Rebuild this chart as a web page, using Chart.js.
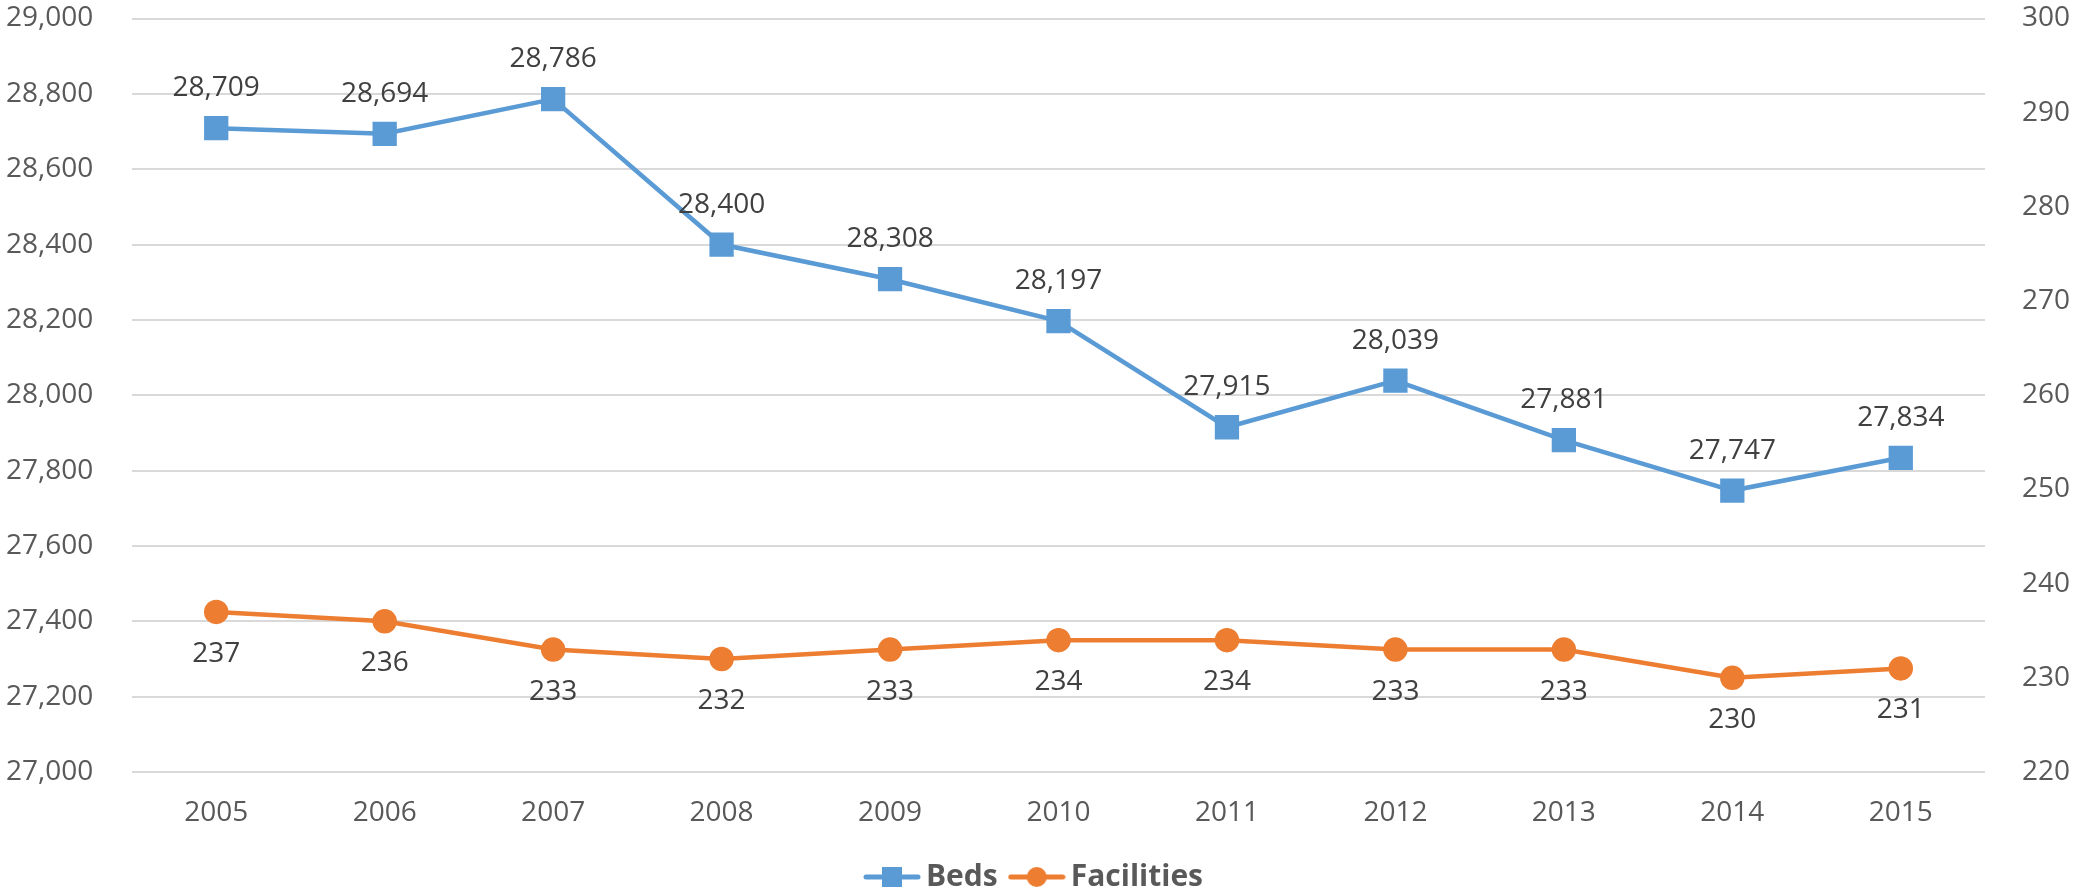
<!DOCTYPE html>
<html>
<head>
<meta charset="utf-8">
<script src="https://cdn.jsdelivr.net/npm/chart.js@4"></script>
<style>
  html, body { margin: 0; padding: 0; background: #fff; }
  #wrap { width: 2074px; height: 894px; }
</style>
</head>
<body>
<div id="wrap"><canvas id="chart"></canvas></div>
<script>
const years = ['2005', '2006', '2007', '2008', '2009', '2010', '2011', '2012', '2013', '2014', '2015'];
const beds = [28709, 28694, 28786, 28400, 28308, 28197, 27915, 28039, 27881, 27747, 27834];
const facilities = [237, 236, 233, 232, 233, 234, 234, 233, 233, 230, 231];

const blue = '#5B9BD5';
const orange = '#ED7D31';
const font = '"Open Sans", sans-serif';

// legend icon: short line with the marker in the middle
function legendIcon(color, shape) {
    const c = document.createElement('canvas');
    c.width = 58;
    c.height = 22;
    const g = c.getContext('2d');
    g.strokeStyle = color;
    g.lineWidth = 5;
    g.lineCap = 'round';
    g.beginPath();
    g.moveTo(3, 11);
    g.lineTo(55, 11);
    g.stroke();
    g.fillStyle = color;
    if (shape === 'rect') {
        g.fillRect(19, 1, 20, 20);
    } else {
        g.beginPath();
        g.arc(29, 11, 10, 0, Math.PI * 2);
        g.fill();
    }
    return c;
}

const dataLabels = {
    id: 'dataLabels',
    afterDatasetsDraw(chart) {
        const ctx = chart.ctx;
        ctx.save();
        ctx.font = '28px ' + font;
        ctx.fillStyle = '#404040';
        ctx.textAlign = 'center';
        ctx.textBaseline = 'middle';
        chart.data.datasets.forEach((ds, di) => {
            const meta = chart.getDatasetMeta(di);
            const off = di === 0 ? -40 : 42;
            meta.data.forEach((pt, i) => {
                ctx.fillText(ds.data[i].toLocaleString('en-US'), pt.x, pt.y + off);
            });
        });
        ctx.restore();
    }
};

new Chart(document.getElementById('chart'), {
    type: 'line',
    data: {
        labels: years,
        datasets: [{
            label: 'Beds',
            data: beds,
            yAxisID: 'y',
            borderColor: blue,
            backgroundColor: blue,
            borderWidth: 4.5,
            pointStyle: 'rect',
            pointRadius: 14,
            pointHoverRadius: 14,
            tension: 0
        }, {
            label: 'Facilities',
            data: facilities,
            yAxisID: 'y2',
            borderColor: orange,
            backgroundColor: orange,
            borderWidth: 4.5,
            pointStyle: 'circle',
            pointRadius: 10,
            pointHoverRadius: 10,
            tension: 0
        }]
    },
    options: {
        responsive: true,
        maintainAspectRatio: false,
        animation: false,
        layout: { padding: { top: 1, bottom: -8, left: 6, right: 4 } },
        plugins: {
            legend: {
                position: 'bottom',
                labels: {
                    usePointStyle: true,
                    pointStyleWidth: 38,
                    color: '#595959',
                    font: { family: font, size: 30, weight: 'bold' },
                    padding: 20,
                    generateLabels: function (chart) {
                        return [
                            { text: 'Beds', pointStyle: legendIcon(blue, 'rect'), fillStyle: blue, strokeStyle: blue, lineWidth: 0, datasetIndex: 0, fontColor: '#595959' },
                            { text: 'Facilities', pointStyle: legendIcon(orange, 'circle'), fillStyle: orange, strokeStyle: orange, lineWidth: 0, datasetIndex: 1, fontColor: '#595959' }
                        ];
                    }
                }
            },
            tooltip: { enabled: false }
        },
        scales: {
            x: {
                offset: true,
                grid: { display: false, drawTicks: false },
                border: { display: false },
                ticks: { color: '#595959', font: { family: font, size: 28 }, padding: 24 },
                afterFit: function (scale) { scale.height = 70; }
            },
            y: {
                position: 'left',
                min: 27000,
                max: 29000,
                ticks: {
                    stepSize: 200,
                    color: '#595959',
                    font: { family: font, size: 28 },
                    padding: 0,
                    crossAlign: 'far',
                    callback: function (value) {
                        return value.toLocaleString('en-US');
                    }
                },
                grid: { color: '#D9D9D9', lineWidth: 2, drawTicks: false },
                border: { display: false },
                afterFit: function (scale) { scale.width = 126; }
            },
            y2: {
                position: 'right',
                min: 220,
                max: 300,
                ticks: {
                    stepSize: 10,
                    color: '#595959',
                    font: { family: font, size: 28 },
                    padding: 0,
                    crossAlign: 'far'
                },
                grid: { display: false, drawTicks: false },
                border: { display: false },
                afterFit: function (scale) { scale.width = 85; }
            }
        }
    },
    plugins: [dataLabels]
});
</script>
</body>
</html>
